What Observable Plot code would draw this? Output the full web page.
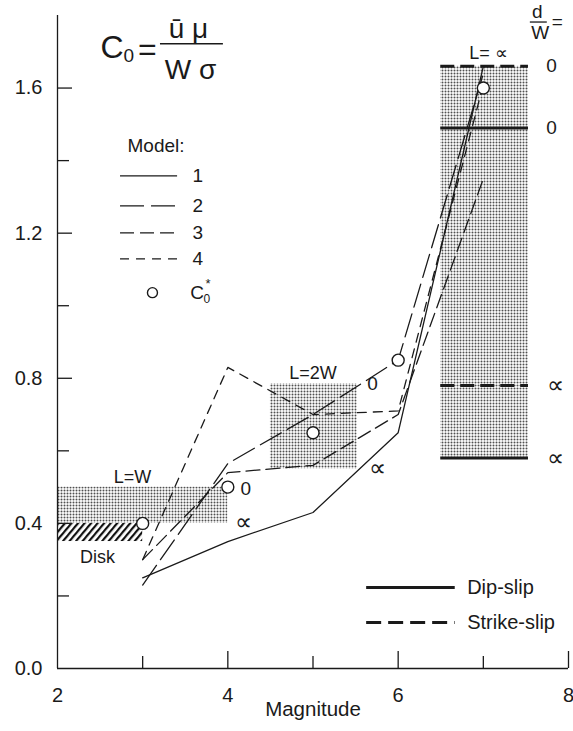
<!DOCTYPE html>
<html>
<head>
<meta charset="utf-8">
<script src="https://cdn.jsdelivr.net/npm/d3@7"></script>
<script src="https://cdn.jsdelivr.net/npm/@observablehq/plot@0.6"></script>
<style>
  html, body { margin: 0; padding: 0; background: #fff; }
  #chart svg { display: block; }
</style>
</head>
<body>
<div id="chart"></div>
<script>
// ---------- data ----------
const magnitudes = [3, 4, 5, 6, 7];
const model1 = [0.25, 0.35, 0.43, 0.65, 1.66];
const model2 = [0.23, 0.565, 0.70, 0.85, 1.64];
const model3 = [0.30, 0.54, 0.56, 0.70, 1.35];
const model4 = [0.30, 0.83, 0.70, 0.71, 1.61];
const c0Star = [0.40, 0.50, 0.65, 0.85, 1.60];
const modelNames = ["1", "2", "3", "4"];

// ticks
const xTickLabels = [2, 4, 6, 8];
const xMajorTicks = [4, 6, 8];
const xMinorTicks = [3, 5, 7];
const yTickLabels = [0, 0.4, 0.8, 1.2, 1.6];
const yMajorTicks = [0.4, 0.8, 1.2, 1.6];
const yMinorTicks = [0.2, 0.6, 1.0, 1.4];

// shaded zones (magnitude range, C0 range)
const zoneNames = ["L=W", "L=2W", "L= \u221D"];
const zoneMagLo = [2, 4.5, 6.5];
const zoneMagHi = [4, 5.52, 7.53];
const zoneC0Lo = [0.40, 0.55, 0.58];
const zoneC0Hi = [0.50, 0.785, 1.66];
const zoneLabelMag = [2.88, 5.0, 7.06];
const zoneLabelC0 = [0.526, 0.815, 1.697];

// disk zone
const diskMag = [2, 3];
const diskC0 = [0.35, 0.40];

// limits for L = infinity (d/W = 0 and d/W = infinity)
const limitType = ["Strike-slip", "Dip-slip", "Strike-slip", "Dip-slip"];
const limitDW = ["0", "0", "\u221D", "\u221D"];
const limitC0 = [1.66, 1.49, 0.78, 0.58];
const limitLabelMag = [7.80, 7.80, 7.85, 7.85];

// d/W labels along model curves
const curveLabelText = ["0", "\u221D", "0", "\u221D"];
const curveLabelMag = [4.21, 4.18, 5.70, 5.76];
const curveLabelC0 = [0.496, 0.402, 0.785, 0.551];

// ---------- styles ----------
const ink = "#1a1a1a";
const modelDash = [null, "24,7", "14,6", "9,7"];
const FONT = "'Liberation Sans', Arial, Helvetica, sans-serif";
const labelSize = t => (t === "\u221D" ? 24 : 19);

// ---------- annotation positions (data coordinates) ----------
const legendModelY = [1.358, 1.275, 1.201, 1.129];
const legendLineMag = [2.74, 3.41];
const legendTextMag = 3.585;
const legendTitle = {x: 2.822, y: 1.441};
const legendCircle = {x: 3.115, y: 1.036};

const faultLegendY = [0.127, 0.223];  // Strike-slip, Dip-slip
const faultLegendNames = ["Strike-slip", "Dip-slip"];
const faultLegendLine = [5.63, 6.67];
const faultLegendText = 6.81;

// ---------- geometry ----------
const W = 573, H = 731;
const mL = 57, mR = 5, mT = 15, mB = 63;
const frameW = W - mL - mR, frameH = H - mT - mB;

const rowsOf = (vals) => magnitudes.map((m, i) => ({m, c0: vals[i]}));
const modelSeries = [model1, model2, model3, model4];

const zones = zoneNames.map((name, i) => ({
  name, m1: zoneMagLo[i], m2: zoneMagHi[i], c1: zoneC0Lo[i], c2: zoneC0Hi[i],
  lm: zoneLabelMag[i], lc: zoneLabelC0[i]
}));
const limits = limitType.map((t, i) => ({
  type: t, dw: limitDW[i], c0: limitC0[i], m1: zoneMagLo[2], m2: zoneMagHi[2], lm: limitLabelMag[i]
}));
const curveLabels = curveLabelText.map((t, i) => ({t, m: curveLabelMag[i], c: curveLabelC0[i]}));

const marks = [];

// shaded zones
marks.push(Plot.rect(zones, {x1: "m1", x2: "m2", y1: "c1", y2: "c2", fill: "url(#stip)"}));
marks.push(Plot.rect([{m1: diskMag[0], m2: diskMag[1], c1: diskC0[0], c2: diskC0[1]}],
  {x1: "m1", x2: "m2", y1: "c1", y2: "c2", fill: "url(#hatch)"}));

// axis lines
marks.push(Plot.ruleX([2], {stroke: ink, strokeWidth: 1.3}));
marks.push(Plot.ruleY([0], {stroke: ink, strokeWidth: 1.3}));
// inward ticks
marks.push(Plot.tickX(xMajorTicks, {x: d => d, insetTop: frameH - 17, stroke: ink, strokeWidth: 1.3}));
marks.push(Plot.tickX(xMinorTicks, {x: d => d, insetTop: frameH - 12, stroke: ink, strokeWidth: 1.3}));
marks.push(Plot.tickY(yMajorTicks, {y: d => d, insetRight: frameW - 15, stroke: ink, strokeWidth: 1.3}));
marks.push(Plot.tickY(yMinorTicks, {y: d => d, insetRight: frameW - 12, stroke: ink, strokeWidth: 1.3}));
// tick labels
marks.push(Plot.axisY({ticks: yTickLabels, tickSize: 0, tickPadding: 15, tickFormat: d3.format(".1f"),
  fontSize: 20, label: null, fill: ink}));
marks.push(Plot.axisX({ticks: xTickLabels, tickSize: 0, tickPadding: 19, tickFormat: d3.format("d"),
  fontSize: 20, label: null, fill: ink}));
marks.push(Plot.text(["Magnitude"], {frameAnchor: "bottom", dy: 47, fontSize: 20.5, fill: ink}));

// limit lines in L = infinity zone
limits.forEach(l => {
  marks.push(Plot.ruleY([l], {y: "c0", x1: "m1", x2: "m2", stroke: ink, strokeWidth: 3,
    strokeDasharray: l.type === "Strike-slip" ? "14,6" : null}));
});
marks.push(Plot.text(limits.filter(l => l.dw === "0"), {x: "lm", y: "c0", text: "dw", fontSize: 19, fill: ink}));
marks.push(Plot.text(limits.filter(l => l.dw !== "0"), {x: "lm", y: "c0", text: "dw", fontSize: 24, fill: ink}));

// model curves
modelSeries.forEach((vals, i) => {
  marks.push(Plot.line(rowsOf(vals), {x: "m", y: "c0", stroke: ink, strokeWidth: 1.3,
    strokeDasharray: modelDash[i] || undefined}));
});
// C0* points
marks.push(Plot.dot(rowsOf(c0Star), {x: "m", y: "c0", r: 6, fill: "white", stroke: ink, strokeWidth: 1.4}));

// zone labels
marks.push(Plot.text(zones, {x: "lm", y: "lc", text: "name", fontSize: 18, fill: ink}));
marks.push(Plot.text(["Disk"], {x: [2.47], y: [0.306], text: d => d, fontSize: 18, fill: ink}));
// curve d/W labels
marks.push(Plot.text(curveLabels.filter(d => d.t === "0"), {x: "m", y: "c", text: "t", fontSize: 19, fill: ink}));
marks.push(Plot.text(curveLabels.filter(d => d.t !== "0"), {x: "m", y: "c", text: "t", fontSize: 24, fill: ink}));

// model legend
marks.push(Plot.text(["Model:"], {x: [legendTitle.x], y: [legendTitle.y], text: d => d, textAnchor: "start", fontSize: 19, fill: ink}));
modelNames.forEach((name, i) => {
  marks.push(Plot.ruleY([{y: legendModelY[i], x1: legendLineMag[0], x2: legendLineMag[1]}],
    {y: "y", x1: "x1", x2: "x2", stroke: ink, strokeWidth: 1.3, strokeDasharray: modelDash[i] || undefined}));
  marks.push(Plot.text([{y: legendModelY[i], t: name}], {x: () => legendTextMag, y: "y", text: "t",
    textAnchor: "start", fontSize: 19, fill: ink}));
});
marks.push(Plot.dot([legendCircle], {x: "x", y: "y", r: 5, fill: "white", stroke: ink, strokeWidth: 1.4}));
marks.push(Plot.text([legendCircle], {x: () => 3.56, y: "y", text: () => "C", textAnchor: "start", fontSize: 19, fill: ink}));
marks.push(Plot.text([legendCircle], {x: () => 3.714, y: () => 1.008, text: () => "0", textAnchor: "start",
  lineAnchor: "bottom", fontSize: 12, fill: ink}));
marks.push(Plot.text([legendCircle], {x: () => 3.738, y: () => 1.075, text: () => "*", textAnchor: "start",
  lineAnchor: "top", fontSize: 13, fill: ink}));

// fault type legend
faultLegendNames.forEach((name, i) => {
  marks.push(Plot.ruleY([{y: faultLegendY[i], x1: faultLegendLine[0], x2: faultLegendLine[1]}],
    {y: "y", x1: "x1", x2: "x2", stroke: ink, strokeWidth: 3, strokeDasharray: name === "Strike-slip" ? "15,7" : null}));
  marks.push(Plot.text([{y: faultLegendY[i], t: name}], {x: () => faultLegendText, y: "y", text: "t",
    textAnchor: "start", fontSize: 20, fill: ink}));
});

// formula C0 = (u-bar mu)/(W sigma)
marks.push(Plot.text(["C"], {x: [2.505], y: [1.683], text: d => d, textAnchor: "start", lineAnchor: "bottom", fontSize: 32, fill: ink}));
marks.push(Plot.text(["0"], {x: [2.775], y: [1.672], text: d => d, textAnchor: "start", lineAnchor: "bottom", fontSize: 19, fill: ink}));
marks.push(Plot.text(["="], {x: [3.056], y: [1.677], text: d => d, lineAnchor: "bottom", fontSize: 32, fill: ink}));
marks.push(Plot.text(["\u016B \u03BC"], {x: [3.537], y: [1.738], text: d => d, lineAnchor: "bottom", fontSize: 28, fill: ink}));
marks.push(Plot.ruleY([{y: 1.722, x1: 3.209, x2: 3.948}], {y: "y", x1: "x1", x2: "x2", stroke: ink, strokeWidth: 1.6}));
marks.push(Plot.text(["W \u03C3"], {x: [3.561], y: [1.625], text: d => d, lineAnchor: "bottom", fontSize: 28, fill: ink}));

// d/W =
marks.push(Plot.text(["d"], {x: [7.634], y: [1.793], text: d => d, lineAnchor: "bottom", fontSize: 19, fill: ink}));
marks.push(Plot.ruleY([{y: 1.782, x1: 7.552, x2: 7.751}], {y: "y", x1: "x1", x2: "x2", stroke: ink, strokeWidth: 1.3}));
marks.push(Plot.text(["W"], {x: [7.669], y: [1.736], text: d => d, lineAnchor: "bottom", fontSize: 19, fill: ink}));
marks.push(Plot.text(["="], {x: [7.869], y: [1.765], text: d => d, lineAnchor: "bottom", fontSize: 19, fill: ink}));

const chart = Plot.plot({
  width: W, height: H,
  marginLeft: mL, marginRight: mR, marginTop: mT, marginBottom: mB,
  x: {domain: [2, 8]},
  y: {domain: [0, 1.8]},
  style: {fontFamily: FONT, fontSize: "19px", background: "white", color: ink, overflow: "visible"},
  marks
});

d3.select(chart).insert("defs", ":first-child").html(`
  <pattern id="stip" width="3" height="3" patternUnits="userSpaceOnUse">
    <rect width="3" height="3" fill="#ffffff"/>
    <circle cx="1.5" cy="1.5" r="1" fill="#505050"/>
  </pattern>
  <pattern id="hatch" width="5" height="5" patternUnits="userSpaceOnUse" patternTransform="rotate(40)">
    <rect width="5" height="5" fill="#ffffff"/>
    <rect width="2.2" height="5" fill="#111111"/>
  </pattern>
`);

document.getElementById("chart").append(chart);
</script>
</body>
</html>
